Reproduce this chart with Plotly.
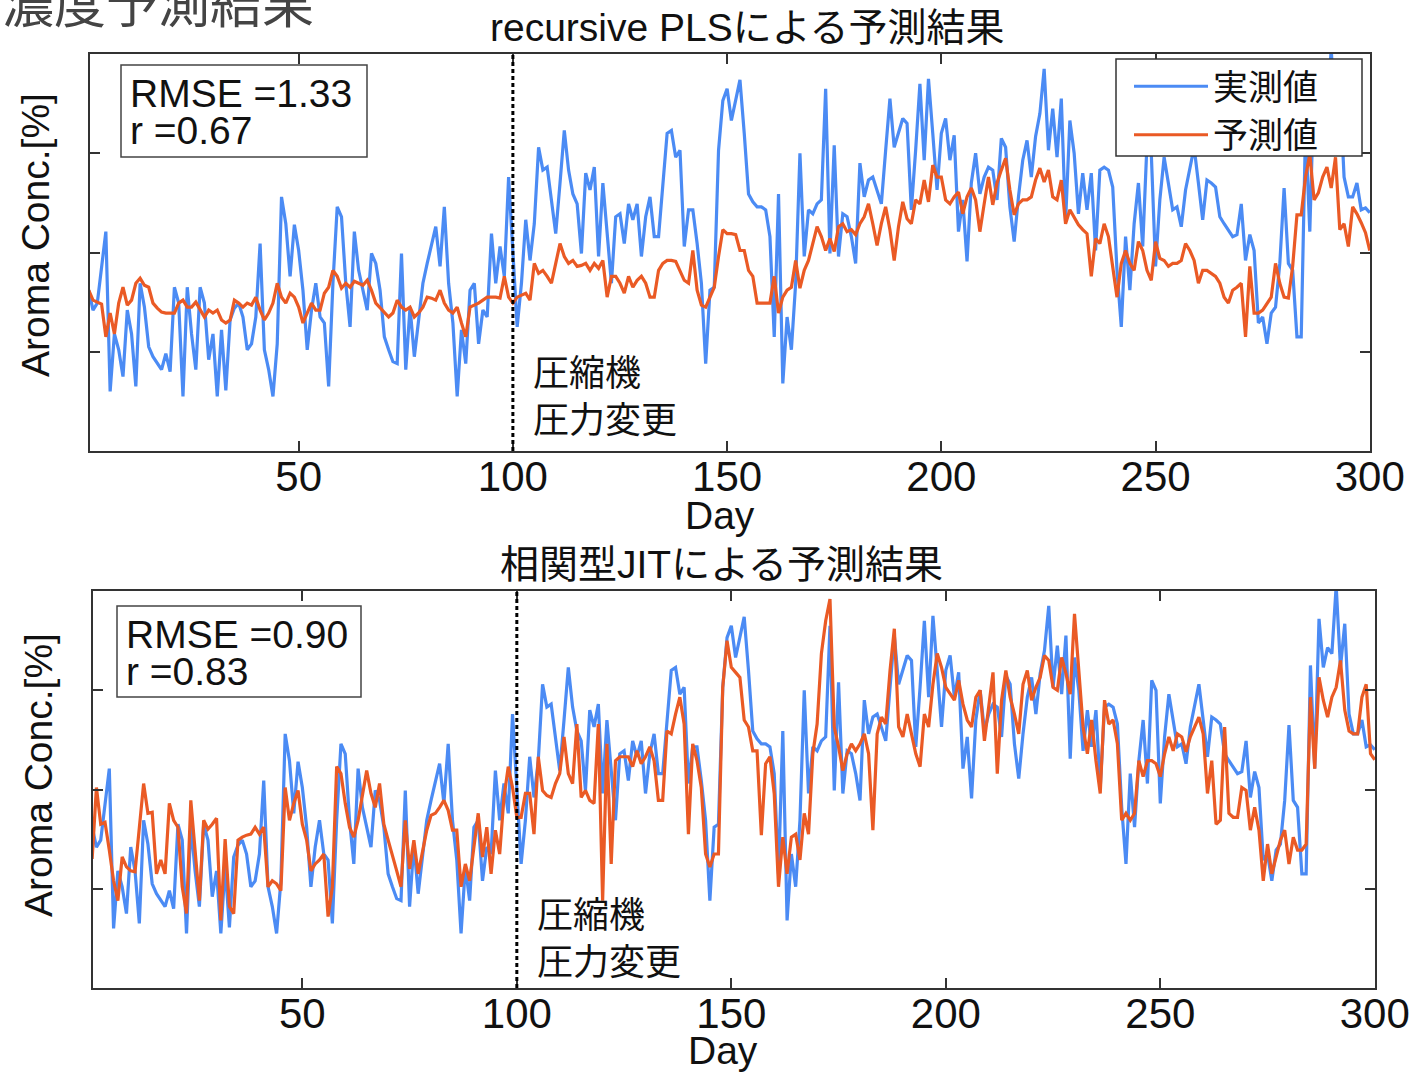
import plotly.graph_objects as go

# ---------------- data ----------------
days = list(range(1, 301))

actual = [
    1.62, 1.42, 1.49, 1.86, 2.21, 0.60, 1.18, 1.02, 0.75, 1.42,
    1.18, 0.65, 1.69, 1.45, 1.05, 0.95, 0.88, 0.82, 0.98, 0.80,
    1.65, 1.49, 0.55, 1.65, 1.18, 0.82, 1.65, 1.49, 0.92, 1.18,
    0.55, 1.22, 0.61, 1.32, 1.44, 1.49, 1.35, 1.02, 1.08, 1.35,
    2.09, 1.02, 0.82, 0.55, 1.08, 2.56, 2.29, 1.76, 2.28, 2.02,
    1.62, 1.02, 1.42, 1.69, 1.35, 1.29, 0.65, 1.69, 2.46, 2.36,
    1.69, 1.25, 2.21, 1.82, 1.62, 1.42, 1.99, 1.89, 1.62, 1.15,
    1.02, 0.90, 0.88, 1.99, 0.82, 1.45, 0.95,
    1.35, 1.69, 1.89, 2.06, 2.26, 1.86, 2.46, 1.69, 1.29, 0.55,
    1.22, 0.88, 1.62, 1.69, 1.08, 1.42, 1.35, 2.19, 1.69, 2.06,
    1.76, 2.76, 2.02, 1.25, 1.69, 2.33, 1.92, 2.29, 3.06, 2.83,
    2.86, 2.53, 2.19, 2.70, 3.23, 2.83, 2.59, 2.49, 1.99, 2.80,
    2.63, 2.86, 1.96, 2.70, 2.16, 1.69, 2.36, 2.39, 2.09, 2.49,
    2.33, 2.49, 1.96, 2.36, 2.56, 2.16, 2.16, 2.70, 3.20, 3.23,
    2.96, 3.03, 2.06, 2.43, 2.43, 2.09, 1.69, 0.88, 1.62, 1.65,
    3.03, 3.53, 3.65,
    3.33, 3.53, 3.74, 3.20, 2.59, 2.51, 2.46, 2.46, 2.43, 2.16,
    1.15, 2.59, 0.68, 1.35, 1.02, 1.69, 3.00, 1.96, 2.43, 2.39,
    2.49, 2.53, 3.65, 1.99, 3.08, 1.96, 2.39, 2.36, 2.16, 1.89,
    2.90, 2.56, 2.73, 2.76, 2.63, 2.49, 3.03, 3.55, 3.06, 3.20,
    3.35, 3.30, 2.43, 3.03, 3.70, 2.93, 3.75, 3.20, 2.63, 3.20,
    3.35, 2.93, 3.18, 2.21, 2.53, 1.91, 2.70, 3.00, 2.59, 2.76,
    2.86, 2.83, 2.53, 3.15, 3.06, 2.46, 2.11, 2.56, 2.93, 3.13,
    2.76, 3.17, 3.40, 3.85,
    3.03, 3.45, 2.96, 3.55, 2.31, 3.33, 3.00, 2.39, 2.80, 2.43,
    2.80, 2.02, 2.83, 2.86, 2.83, 2.66, 1.82, 1.25, 2.16, 1.62,
    2.29, 2.70, 2.06, 3.10, 3.00, 1.86, 2.53, 2.96, 2.70, 2.43,
    2.46, 2.26, 2.63, 2.86, 3.06, 2.70, 2.33, 2.73, 2.70, 2.66,
    2.36, 2.29, 2.23, 2.16, 2.18, 2.49, 1.92, 2.18, 2.02, 1.29,
    1.35, 1.08, 1.39, 1.45, 1.89, 2.65, 1.89, 1.82, 1.15, 1.15,
    3.25, 2.21, 3.72, 3.23, 3.43, 3.37, 4.05, 3.23, 3.67, 2.76,
    2.56, 2.56, 2.70, 2.43, 2.45, 2.40,
]

pred_pls = [
    1.62, 1.52, 1.50, 1.48, 1.15, 1.39, 1.18, 1.49, 1.65, 1.47,
    1.52, 1.69, 1.74, 1.67, 1.65, 1.49, 1.44, 1.40, 1.39, 1.39,
    1.39, 1.49, 1.52, 1.45, 1.45, 1.50, 1.42, 1.35, 1.42, 1.39,
    1.42, 1.32, 1.29, 1.32, 1.52, 1.49, 1.45, 1.49, 1.47, 1.55,
    1.42, 1.32, 1.39, 1.49, 1.69, 1.55, 1.49, 1.59, 1.55, 1.45,
    1.29, 1.39, 1.49, 1.42, 1.42, 1.59, 1.65, 1.82, 1.76, 1.64,
    1.69, 1.65, 1.71, 1.69, 1.67, 1.72, 1.62, 1.49, 1.44, 1.39,
    1.35, 1.39, 1.52, 1.45, 1.42, 1.45, 1.35,
    1.39, 1.45, 1.55, 1.54, 1.52, 1.62, 1.49, 1.42, 1.39, 1.45,
    1.29, 1.15, 1.45, 1.47, 1.49, 1.52, 1.55, 1.55, 1.55, 1.54,
    1.76, 1.55, 1.49, 1.55, 1.57, 1.59, 1.52, 1.89, 1.79, 1.82,
    1.76, 1.69, 1.89, 2.09, 1.96, 1.89, 1.92, 1.86, 1.87, 1.89,
    1.82, 1.89, 1.84, 1.92, 1.55, 1.76, 1.76, 1.69, 1.59, 1.76,
    1.65, 1.72, 1.76, 1.69, 1.55, 1.55, 1.82, 1.89, 1.92, 1.92,
    1.91, 1.82, 1.72, 1.69, 2.02, 1.62, 1.47, 1.45, 1.55, 1.65,
    1.96, 2.23, 2.19,
    2.19, 2.18, 2.02, 2.02, 1.82, 1.76, 1.49, 1.49, 1.49, 1.49,
    1.76, 1.39, 1.55, 1.62, 1.65, 1.92, 1.64, 1.82, 1.92, 2.09,
    2.26, 2.16, 2.02, 2.14, 2.01, 2.26, 2.29, 2.21, 2.23, 2.18,
    2.29, 2.36, 2.49, 2.29, 2.07, 2.29, 2.46, 2.23, 1.92, 2.26,
    2.51, 2.34, 2.29, 2.53, 2.49, 2.73, 2.51, 2.88, 2.76, 2.76,
    2.53, 2.49, 2.56, 2.61, 2.39, 2.56, 2.65, 2.53, 2.21, 2.49,
    2.76, 2.48, 2.70, 2.83, 2.95, 2.63, 2.38, 2.49, 2.53, 2.53,
    2.56, 2.73, 2.85, 2.71,
    2.83, 2.56, 2.53, 2.73, 2.29, 2.43, 2.36, 2.28, 2.23, 2.19,
    1.76, 2.14, 2.09, 2.29, 2.16, 1.86, 1.55, 1.89, 2.02, 1.89,
    1.82, 2.11, 2.02, 1.82, 1.72, 2.11, 1.94, 1.92, 1.86, 1.89,
    1.89, 1.92, 2.09, 2.02, 1.92, 1.69, 1.82, 1.82, 1.79, 1.76,
    1.69, 1.55, 1.49, 1.62, 1.65, 1.69, 1.15, 1.86, 1.39, 1.39,
    1.42, 1.49, 1.55, 1.89, 1.69, 1.55, 1.54, 1.86, 2.38, 2.38,
    2.76, 2.99, 2.53, 2.60, 2.76, 2.86, 2.65, 2.96, 2.23, 2.29,
    2.06, 2.46, 2.39, 2.30, 2.20, 2.02,
]

pred_jit = [
    1.30, 2.02, 1.65, 1.67, 1.39, 1.08, 0.88, 1.32, 1.22, 1.18,
    1.17, 1.62, 2.06, 1.76, 1.77, 1.15, 1.29, 1.15, 1.86, 1.69,
    1.62, 1.02, 0.75, 1.89, 1.35, 0.88, 1.69, 1.60, 1.65, 1.71,
    0.68, 1.50, 0.82, 0.75, 1.49, 1.52, 1.54, 1.55, 1.62, 1.55,
    1.62, 1.02, 1.08, 1.05, 0.98, 2.02, 1.69, 1.86, 1.99, 1.65,
    1.49, 1.18, 1.25, 1.29, 1.35, 0.72, 1.02, 2.23, 2.16, 1.86,
    1.62, 1.52, 1.69, 1.96, 2.19, 1.96, 1.82, 2.06, 1.65, 1.49,
    1.32, 1.18, 1.02, 1.69, 1.20, 1.49, 1.15,
    1.39, 1.59, 1.74, 1.76, 1.82, 1.89, 1.79, 1.59, 1.59, 1.02,
    1.25, 1.08, 1.42, 1.76, 1.32, 1.62, 1.15, 1.59, 1.35, 1.92,
    2.23, 2.02, 1.72, 1.72, 1.96, 1.96, 1.55, 2.33, 1.99, 1.94,
    1.92, 2.06, 2.16, 2.53, 2.16, 2.06, 2.66, 1.92, 1.99, 1.89,
    1.86, 2.66, 0.88, 2.46, 1.25, 2.29, 2.33, 2.33, 2.33, 2.23,
    2.39, 2.26, 2.33, 2.43, 2.29, 1.89, 1.89, 2.59, 2.56, 2.76,
    2.93, 2.66, 1.55, 2.46, 2.29, 2.02, 1.35, 1.22, 1.35, 1.35,
    3.03, 3.50, 3.23,
    3.18, 3.13, 2.70, 2.63, 2.39, 2.39, 1.54, 2.26, 2.33, 1.96,
    1.02, 1.52, 1.15, 1.52, 1.55, 1.29, 1.76, 1.55, 2.36, 2.66,
    3.37, 3.70, 3.92, 2.63, 2.43, 2.19, 2.36, 2.46, 2.39, 2.46,
    2.56, 2.36, 1.59, 2.56, 2.73, 2.66, 3.20, 3.62, 2.63, 2.53,
    2.76, 2.56, 2.36, 2.23, 2.76, 2.63, 3.06, 3.37, 3.23, 3.03,
    2.96, 2.90, 3.10, 2.86, 2.70, 2.63, 2.93, 3.00, 2.49, 2.86,
    3.18, 2.16, 2.90, 3.20, 2.93, 2.76, 2.56, 3.06, 3.20, 2.90,
    3.03, 3.13, 3.35, 3.30, 3.03,
    3.00, 3.33, 3.17, 2.96, 3.77, 3.17, 2.63, 2.36, 2.70, 2.29,
    1.96, 2.90, 2.66, 2.70, 2.46, 1.69, 1.76, 1.69, 1.76, 2.29,
    2.13, 2.29, 2.29, 2.26, 2.13, 2.36, 2.53, 2.39, 2.56, 2.53,
    2.38, 2.53, 2.63, 2.73, 2.56, 1.96, 2.29, 1.65, 1.69, 2.63,
    1.76, 1.72, 1.72, 2.02, 1.99, 1.59, 1.82, 1.59, 1.08, 1.45,
    1.15, 1.32, 1.49, 1.59, 1.25, 1.52, 1.39, 1.39, 1.45, 2.93,
    2.21, 3.13, 2.90, 2.73, 2.93, 3.03, 3.30, 2.80, 2.59, 2.56,
    2.56, 2.93, 3.06, 2.36, 2.30,
]

xticks = [50, 100, 150, 200, 250, 300]
yticks = [1, 2, 3]
change_day = 100
series_names = ["実測値", "予測値"]
panel_titles = ["recursive PLSによる予測結果", "相関型JITによる予測結果"]
rmse_vals = ["1.33", "0.90"]
r_vals = ["0.67", "0.83"]
event_lines = ["圧縮機", "圧力変更"]
page_title = "濃度予測結果"
x_title = "Day"
y_title = "Aroma Conc.[%]"

# ---------------- style ----------------
W, H = 1413, 1073
BLUE = "#4b8bf4"
ORANGE = "#ea5a25"
AX = "#333333"
TXT = "#111111"
FONT = "Liberation Sans, Arial, Noto Sans CJK JP, sans-serif"
JFONT = "Noto Sans CJK JP, sans-serif"


def px_x(p):
    return p / W


def px_y(p):
    return 1 - p / H


fig = go.Figure()

preds = [pred_pls, pred_jit]
for i, pred in enumerate(preds):
    xa = "x" if i == 0 else "x2"
    ya = "y" if i == 0 else "y2"
    fig.add_trace(go.Scatter(x=days, y=actual, mode="lines", name=series_names[0],
                             line=dict(color=BLUE, width=3.2), xaxis=xa, yaxis=ya,
                             showlegend=(i == 0)))
    fig.add_trace(go.Scatter(x=days, y=pred, mode="lines", name=series_names[1],
                             line=dict(color=ORANGE, width=3.2), xaxis=xa, yaxis=ya,
                             showlegend=(i == 0)))

# panel geometry (pixels)
panels = [
    dict(l=90, r=1370, t=54, b=451, xr=[1.3, 300.05],
         title_xy=(747, 27), day_xy=(720, 515), ytitle_xy=(35, 235),
         event_xy=(531, 394)),
    dict(l=93, r=1375, t=591, b=988, xr=[1.2, 300.05],
         title_xy=(721, 564), day_xy=(723, 1050), ytitle_xy=(38, 775),
         event_xy=(535, 935)),
]


def xaxis_cfg(p, anchor):
    return dict(domain=[px_x(p["l"]), px_x(p["r"])], anchor=anchor, range=p["xr"],
                tickmode="array", tickvals=xticks, ticks="inside", ticklen=10,
                tickwidth=1.5, tickcolor=AX, mirror="ticks", showline=True,
                linecolor=AX, linewidth=2, showgrid=False, zeroline=False,
                ticklabelstandoff=-12,
                tickfont=dict(family=FONT, size=42, color=TXT))


def yaxis_cfg(p, anchor):
    return dict(domain=[px_y(p["b"]), px_y(p["t"])], anchor=anchor, range=[0, 4],
                tickmode="array", tickvals=yticks, showticklabels=False,
                ticks="inside", ticklen=10, tickwidth=1.5, tickcolor=AX,
                mirror="ticks", showline=True, linecolor=AX, linewidth=2,
                showgrid=False, zeroline=False)


shapes = []
annotations = []

for i, p in enumerate(panels):
    xr = "x" if i == 0 else "x2"
    yr = "y domain" if i == 0 else "y2 domain"
    # dotted change line
    shapes.append(dict(type="line", xref=xr, yref=yr, x0=change_day, x1=change_day,
                       y0=0, y1=1, line=dict(color="#000", width=3, dash="4px,3px")))
    # panel title
    annotations.append(dict(xref="paper", yref="paper", x=px_x(p["title_xy"][0]),
                            y=px_y(p["title_xy"][1]), xanchor="center", yanchor="middle",
                            text=panel_titles[i], showarrow=False,
                            font=dict(family=FONT, size=39, color=TXT)))
    # x-axis title
    annotations.append(dict(xref="paper", yref="paper", x=px_x(p["day_xy"][0]),
                            y=px_y(p["day_xy"][1]), xanchor="center", yanchor="middle",
                            text=x_title, showarrow=False,
                            font=dict(family=FONT, size=39, color=TXT)))
    # y-axis title
    annotations.append(dict(xref="paper", yref="paper", x=px_x(p["ytitle_xy"][0]),
                            y=px_y(p["ytitle_xy"][1]), xanchor="center", yanchor="middle",
                            text=y_title, textangle=-90, showarrow=False,
                            font=dict(family=FONT, size=39, color=TXT)))
    # event label (two lines)
    annotations.append(dict(xref="paper", yref="paper", x=px_x(p["event_xy"][0]),
                            y=px_y(p["event_xy"][1]), xanchor="left", yanchor="middle",
                            align="left", text="<br>".join(event_lines),
                            showarrow=False,
                            font=dict(family=JFONT, size=36, color=TXT)))

# stats boxes
boxes = [dict(x0=121, x1=367, y0=65, y1=157), dict(x0=117, x1=361, y0=606, y1=697)]
for i, b in enumerate(boxes):
    shapes.append(dict(type="rect", xref="paper", yref="paper",
                       x0=px_x(b["x0"]), x1=px_x(b["x1"]),
                       y0=px_y(b["y1"]), y1=px_y(b["y0"]),
                       line=dict(color="#444", width=1.5), fillcolor="white"))
    annotations.append(dict(xref="paper", yref="paper", x=px_x(b["x0"] + 7),
                            y=px_y(b["y0"] + 28), xanchor="left", yanchor="middle",
                            text="RMSE =" + rmse_vals[i], showarrow=False,
                            font=dict(family=FONT, size=39, color=TXT)))
    annotations.append(dict(xref="paper", yref="paper", x=px_x(b["x0"] + 7),
                            y=px_y(b["y0"] + 65), xanchor="left", yanchor="middle",
                            text="r =" + r_vals[i], showarrow=False,
                            font=dict(family=FONT, size=39, color=TXT)))

# legend frame (the legend entries sit inside it)
shapes.append(dict(type="rect", xref="paper", yref="paper", layer="above",
                   x0=px_x(1116), x1=px_x(1362), y0=px_y(156), y1=px_y(59),
                   line=dict(color="#333", width=1.5), fillcolor="white"))

# page title (cut at top edge, as in the source slide)
annotations.append(dict(xref="paper", yref="paper", x=0, y=px_y(0),
                        xanchor="left", yanchor="middle", text=page_title,
                        showarrow=False, font=dict(family=JFONT, size=52, color="#444")))

fig.update_layout(
    width=W, height=H,
    margin=dict(l=0, r=0, t=0, b=0, autoexpand=False),
    paper_bgcolor="white", plot_bgcolor="white",
    xaxis=xaxis_cfg(panels[0], "y"),
    yaxis=yaxis_cfg(panels[0], "x"),
    xaxis2=xaxis_cfg(panels[1], "y2"),
    yaxis2=yaxis_cfg(panels[1], "x2"),
    shapes=shapes,
    annotations=annotations,
    legend=dict(x=px_x(1129), y=px_y(57), xanchor="left", yanchor="top",
                bgcolor="rgba(0,0,0,0)", bordercolor="rgba(0,0,0,0)", borderwidth=0,
                font=dict(family=JFONT, size=35, color=TXT),
                itemwidth=74, tracegroupgap=0),
    showlegend=True,
)

fig.write_html(
    "out.html",
    config={"displayModeBar": False},
    post_script="document.body.style.margin='0';"
                "document.documentElement.style.overflow='hidden';"
                "document.body.style.overflow='hidden';",
)
